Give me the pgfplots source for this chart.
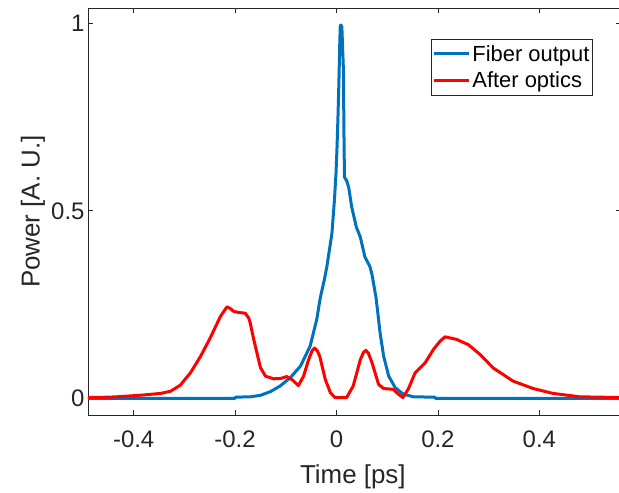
\documentclass[border=0pt]{standalone}
\usepackage{pgfplots}
\pgfplotsset{compat=1.18}
\usepackage{fontspec}
\setmainfont{Liberation Sans}
\definecolor{mblue}{RGB}{0,114,189}
\definecolor{axgray}{RGB}{38,38,38}
\begin{document}
\begin{tikzpicture}
\useasboundingbox (-88bp,-78bp) rectangle (531bp,415bp);
\begin{axis}[
  at={(0,0)}, anchor=south west,
  scale only axis, width=533bp, height=406.7bp,
  xmin=-0.49, xmax=0.561, ymin=-0.0445, ymax=1.04,
  xtick={-0.4,-0.2,0,0.2,0.4},
  xticklabels={-0.4,-0.2,0,0.2,0.4},
  ytick={0,0.5,1},
  yticklabels={0,0.5,1},
  tick align=inside,
  major tick length=5bp,
  axis line style={axgray, line width=0.8bp},
  tick style={axgray, line width=0.8bp},
  ticklabel style={font=\fontsize{24}{28}\selectfont, text=axgray},
  xticklabel style={yshift=-12bp},
  label style={font=\fontsize{26}{30}\selectfont, text=axgray},
  xlabel={Time [ps]},
  ylabel={Power [A. U.]},
  xlabel style={at={(axis description cs:0.497,-0.1672)}, anchor=base},
  ylabel style={at={(axis description cs:-0.0906,0.5)}, anchor=base},
  legend style={at={(0.948,0.9238)}, anchor=north east, draw=axgray, line width=0.8bp,
    fill=white, font=\fontsize{22}{26}\selectfont, text=black,
    inner xsep=2bp, inner ysep=4bp, row sep=6.5bp,
    nodes={inner sep=1.5bp}},
  legend image code/.code={\draw[#1, line width=3bp] (0bp,0bp) -- (35bp,0bp);},
  legend cell align=left,
]
\addplot[mblue, line width=3bp, line join=round] coordinates {
(-0.49,0) (-0.20,0) (-0.199,0.003) (-0.17,0.004) (-0.15,0.008) (-0.13,0.018)
(-0.111,0.033) (-0.091,0.055) (-0.071,0.086) (-0.052,0.139) (-0.039,0.21)
(-0.032,0.268) (-0.024,0.316) (-0.019,0.351) (-0.009,0.44) (-0.004,0.53)
(-0.001,0.60) (0.0008,0.66) (0.0027,0.74) (0.0047,0.84) (0.0065,0.95)
(0.0075,0.995) (0.009,0.995) (0.0106,0.99) (0.0138,0.87) (0.0145,0.73)
(0.0157,0.59) (0.020,0.58) (0.024,0.563) (0.030,0.51) (0.039,0.457)
(0.047,0.43) (0.056,0.377) (0.066,0.351) (0.070,0.33) (0.073,0.307)
(0.078,0.268) (0.080,0.245) (0.086,0.174) (0.093,0.112) (0.103,0.059)
(0.116,0.028) (0.132,0.011) (0.152,0.004) (0.194,0.003) (0.195,0.0) (0.561,0)
};
\addlegendentry{Fiber output}
\addplot[red, line width=3bp, line join=round] coordinates {
(-0.49,0.002) (-0.45,0.003) (-0.426,0.0045) (-0.38,0.009) (-0.347,0.013)
(-0.327,0.019) (-0.308,0.035) (-0.288,0.068) (-0.268,0.112) (-0.249,0.161)
(-0.229,0.218) (-0.216,0.244) (-0.210,0.240) (-0.203,0.232) (-0.193,0.229)
(-0.180,0.227) (-0.173,0.214) (-0.170,0.200) (-0.163,0.156) (-0.160,0.139)
(-0.150,0.082) (-0.140,0.059) (-0.124,0.052) (-0.110,0.053) (-0.098,0.058)
(-0.088,0.050) (-0.075,0.034) (-0.065,0.059) (-0.055,0.103) (-0.048,0.127) (-0.043,0.134)
(-0.038,0.127) (-0.033,0.112) (-0.022,0.050) (-0.012,0.015) (-0.003,0.002)
(0.020,0.002) (0.033,0.033) (0.047,0.103) (0.053,0.122) (0.058,0.128) (0.063,0.120) (0.070,0.095)
(0.083,0.037) (0.093,0.026) (0.112,0.024) (0.122,0.011) (0.131,0.002)
(0.142,0.026) (0.155,0.068) (0.175,0.095) (0.191,0.130) (0.204,0.152)
(0.214,0.164) (0.237,0.157) (0.260,0.143) (0.283,0.117) (0.309,0.081)
(0.348,0.046) (0.388,0.026) (0.427,0.013) (0.48,0.004) (0.561,0.002)
};
\addlegendentry{After optics}
\end{axis}
\end{tikzpicture}
\end{document}
